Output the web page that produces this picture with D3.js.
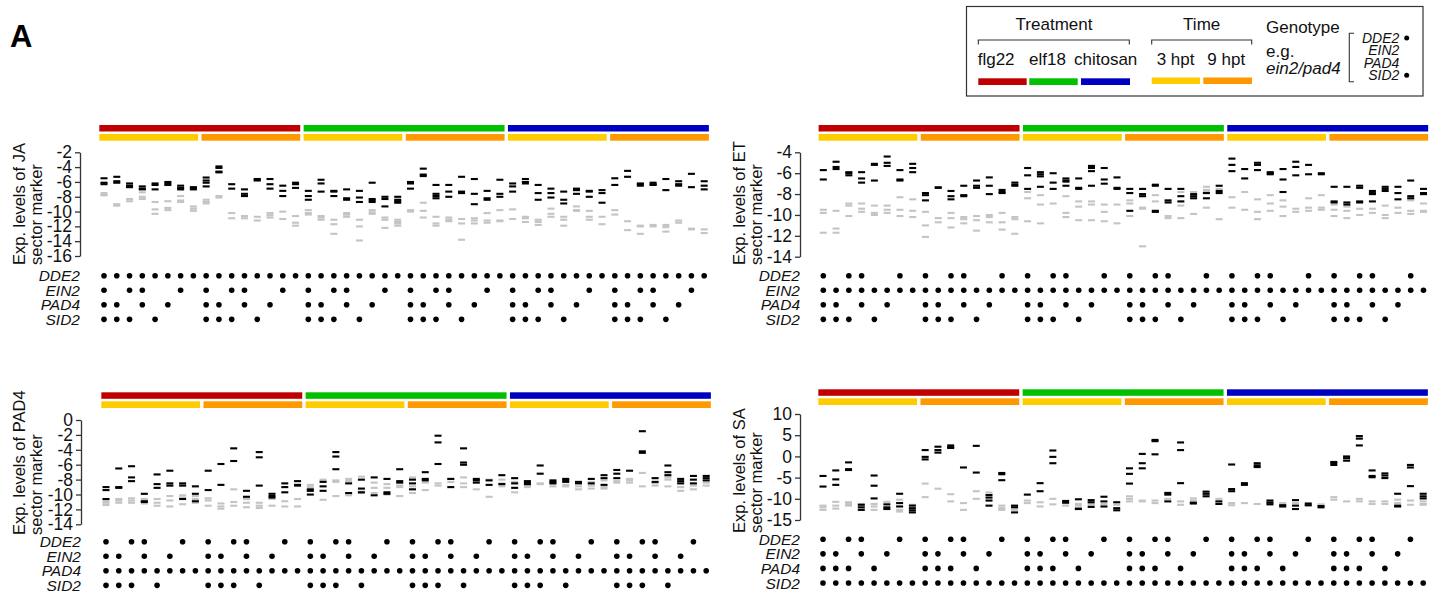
<!DOCTYPE html>
<html>
<head>
<meta charset="utf-8">
<script src="https://cdn.jsdelivr.net/npm/d3@7"></script>
<style>
  body { margin: 0; background: #fff; }
  svg { display: block; font-family: "Liberation Sans", Arial, sans-serif; }
</style>
</head>
<body>
<svg id="fig" width="1437" height="594"></svg>
<script>
// ---- data ----
const genes = ["DDE2", "EIN2", "PAD4", "SID2"];
const treatments = ["flg22", "elf18", "chitosan"];
const times = ["3 hpt", "9 hpt"];
// presence of the three non-marker genes in the 8 genotypes of each block
const genotypePattern = [[1,1,1],[0,1,1],[1,0,1],[1,1,0],[0,0,1],[0,1,0],[1,0,0],[0,0,0]];
const legendExample = [1, 0, 0, 1]; // ein2/pad4

const jaTicks = [-2, -4, -6, -8, -10, -12, -14, -16];
const jaBlack = [
  [-5.5,-6.1,-6.3],[-5.3,-5.9,-6.1],[-6.2,-6.5,-6.7],[-6.6,-6.9,-7.0],[-6.2,-6.4,-7.0],[-6.0,-6.2,-6.4],[-6.5,-6.8,-7.0],[-6.7,-6.8,-7.0],
  [-5.4,-5.8,-6.1,-6.6],[-3.9,-4.1,-4.6,-4.7],[-6.3,-6.9],[-7.0,-7.6,-7.9],[-5.6,-5.7,-5.8],[-5.6,-6.3,-6.9],[-6.5,-7.2,-7.9],[-6.1,-6.3,-6.8],
  [-7.2,-7.9,-8.4],[-5.7,-6.2,-7.3],[-7.2,-7.3,-7.9],[-7.0,-8.2,-8.4],[-7.2,-8.1,-8.7],[-6.1,-8.3,-8.5,-8.7],[-8.0,-8.3,-9.3],[-8.0,-8.4,-8.6,-8.8],
  [-6.0,-6.2,-6.9],[-4.2,-5.0,-5.2],[-6.4,-7.6,-7.9,-8.2],[-6.4,-7.3,-8.0],[-5.3,-7.3,-7.5],[-5.6,-7.6,-9.0],[-7.2,-8.2,-8.4],[-5.7,-7.6,-8.0],
  [-6.2,-6.6,-7.3],[-5.6,-6.0,-6.2],[-6.4,-7.5,-8.4],[-6.9,-7.5,-8.1],[-7.3,-8.4,-8.9],[-6.9,-7.1,-7.6],[-7.2,-7.3,-8.0],[-7.1,-7.5,-8.8],
  [-5.5,-6.4],[-4.5,-5.3],[-6.2,-6.3,-6.5],[-6.1,-6.3,-6.4],[-5.6,-7.1],[-5.9,-6.3,-6.5],[-4.9,-6.7],[-5.9,-6.5,-7.0]
];
const jaGray = [
  [-7.5,-7.7,-7.8],[-9.0,-9.2],[-8.3,-8.6],[-7.4,-8.0,-8.3],[-8.7,-9.7,-10.3],[-8.6,-9.5,-9.8],[-7.9,-8.5,-8.7],[-9.3,-9.6,-9.9],
  [-8.4,-8.7,-8.9],[-7.9,-8.1],[-10.2,-10.9],[-10.6,-10.9],[-10.7,-11.2],[-10.2,-10.5,-10.8],[-10.0,-11.0],[-10.6,-11.5,-11.9],
  [-9.8,-10.2,-10.4],[-10.6,-10.8,-11.1],[-11.1,-11.7,-13.0],[-10.2,-10.4,-10.7],[-11.1,-12.0,-13.9],[-9.8,-10.1,-10.3],[-10.8,-11.1,-12.2],[-11.1,-11.4,-11.6,-11.9],
  [-9.8,-10.0],[-8.8,-9.9,-10.8],[-10.7,-11.6,-11.9],[-10.8,-11.1,-11.3],[-11.0,-11.6,-13.8],[-10.9,-11.2,-11.6],[-10.2,-11.2,-11.5],[-9.8,-11.2,-11.3],
  [-9.7,-11.0],[-10.7,-10.9,-11.4],[-11.1,-11.4,-11.8],[-9.6,-10.3,-10.7],[-10.7,-11.1,-11.9],[-9.3,-9.8,-9.9],[-9.9,-10.7,-11.1],[-10.7,-11.7],
  [-9.8,-10.4],[-11.3,-12.5],[-11.9,-12.0,-13.0],[-11.8,-12.0],[-11.8,-12.1,-12.7],[-11.2,-11.5],[-12.3,-12.4],[-12.4,-12.9]
];

const etTicks = [-4, -6, -8, -10, -12, -14];
const etBlack = [
  [-5.7,-6.6],[-4.9,-5.4,-5.6],[-5.9,-6.0,-6.2],[-5.9,-6.5,-6.9],[-5.1,-5.2,-6.7],[-4.4,-5.0,-5.3],[-5.7,-6.6,-6.7],[-5.1,-5.5,-5.9],
  [-7.9,-8.1,-8.6],[-7.35,-7.4],[-7.7,-8.2,-8.5],[-7.2,-8.1,-8.2],[-6.7,-7.2,-7.4],[-6.4,-7.2,-8.0],[-7.6,-7.8,-7.9],[-6.9,-7.1,-7.2],
  [-5.5,-6.2,-7.5],[-5.9,-6.1,-6.3,-7.3],[-6.0,-6.9,-7.5],[-6.5,-6.7,-6.8,-7.2],[-6.5,-7.4,-7.5],[-5.3,-5.5,-5.8,-7.2],[-5.5,-6.6,-7.0],[-6.4,-7.4,-7.5],
  [-7.5,-7.9,-9.6],[-7.5,-8.0,-8.2],[-7.1,-7.2,-9.6,-9.7],[-7.5,-8.6,-8.8],[-7.5,-8.2,-8.7],[-8.0,-8.2,-8.4],[-7.9,-8.4],[-7.2,-7.7,-7.9],
  [-4.6,-5.2,-5.8],[-5.6,-6.5],[-5.0,-5.2,-5.7],[-5.9,-6.0,-6.1],[-5.6,-6.6,-7.8],[-4.9,-5.4,-6.2],[-5.2,-6.1],[-6.0,-6.1],
  [-7.3,-8.7,-8.8],[-7.3,-8.8,-9.0],[-7.2,-7.4,-8.7,-8.8],[-7.7,-7.9,-8.0,-8.7],[-7.3,-7.5,-7.7],[-7.3,-7.9,-8.5],[-6.7,-8.2,-8.4],[-7.5,-7.9,-8.0]
];
const etGray = [
  [-9.5,-9.8,-11.7],[-9.6,-11.3,-11.7],[-8.9,-9.1,-10.1],[-8.9,-9.4,-9.7],[-9.1,-9.8,-10.0],[-9.1,-9.5,-9.8],[-8.3,-9.5,-10.1],[-8.5,-9.6,-10.2],
  [-9.7,-11.0,-12.1],[-10.3,-10.7],[-9.8,-10.3,-11.2],[-10.2,-10.4,-10.8],[-10.1,-10.5,-11.5],[-10.0,-10.2,-10.7],[-9.8,-10.7,-11.4],[-10.2,-10.4,-11.8],
  [-7.8,-8.4,-10.6],[-8.1,-9.0,-10.8],[-8.9],[-8.2,-9.8,-10.2],[-8.7,-9.2,-10.5],[-8.7,-9.0,-10.5],[-9.0,-9.7,-10.6],[-9.0,-10.8],
  [-8.6,-8.9,-10.1],[-9.3,-9.4,-13.0],[-8.1,-8.7],[-10.1,-10.3],[-7.8,-9.1,-10.3],[-7.8,-9.9],[-7.3,-7.6,-7.8,-9.3],[-7.5,-10.4],
  [-8.3,-9.3],[-7.8,-9.5],[-8.5,-9.7,-10.4],[-8.1,-8.9,-9.6],[-8.6,-9.2,-10.1],[-9.4,-9.7],[-8.4,-9.3,-9.6],[-8.1,-9.3,-9.5],
  [-9.0,-9.5,-10.1],[-9.2,-9.6,-10.3],[-9.4,-10.0],[-9.4,-9.8],[-9.1,-10.0,-10.3],[-9.3,-9.8],[-8.6,-9.6,-9.9],[-8.9,-9.6,-9.7]
];

const padTicks = [0, -2, -4, -6, -8, -10, -12, -14];
const padBlack = [
  [-9.0,-9.4,-10.6],[-6.5,-9.0,-9.1],[-6.2,-7.7,-8.2],[-9.9,-10.9,-11.0],[-7.3,-8.6,-9.1],[-6.8,-8.5,-8.8],[-8.5,-8.8,-10.6],[-8.9,-9.9,-10.9],
  [-6.8,-9.4],[-5.9,-8.7],[-3.8,-5.5],[-9.5,-10.3],[-4.3,-5.0,-8.8],[-9.9,-10.2,-10.4],[-8.5,-9.0,-9.7],[-8.2,-8.7,-8.8],
  [-9.3,-9.5,-10.0],[-8.3,-8.9,-9.5],[-4.3,-4.9,-6.6],[-8.5,-9.8],[-8.0,-9.2,-9.7],[-7.7,-10.1],[-7.9,-9.7,-9.9],[-6.6,-8.2,-8.4],
  [-8.0,-8.5,-9.3],[-7.0,-7.9,-8.1],[-2.1,-3.0,-5.9],[-7.9,-9.0],[-3.8,-5.7,-6.0],[-7.9,-8.1,-8.4],[-8.1,-8.7],[-7.4,-8.6],
  [-7.8,-8.5,-9.1],[-8.2,-8.4,-8.6],[-6.1,-7.2],[-8.1,-8.3,-8.5],[-7.9,-8.1,-8.3],[-8.3,-8.5],[-7.9,-8.5],[-7.4,-7.8,-8.7],
  [-6.7,-7.2,-7.8],[-6.8],[-1.5,-4.2,-4.4],[-7.8,-8.3],[-6.1,-7.0,-7.4],[-7.9,-8.2,-8.5],[-7.5,-8.0,-8.5],[-7.5,-7.8,-8.1]
];
const padGray = [
  [-10.9,-11.1,-11.4],[-10.6,-10.8,-11.1],[-10.5,-10.8,-11.1],[-10.6,-10.7,-11.2],[-10.6,-11.1,-11.5],[-10.2,-10.8,-11.6],[-10.1,-10.4,-11.3],[-10.2,-10.6,-11.1],
  [-10.5,-10.8,-11.5],[-11.2,-11.6,-11.9],[-9.3,-11.0,-11.5],[-10.6,-11.1,-11.7],[-11.1,-11.5,-11.8],[-10.6,-11.5],[-10.9,-11.6],[-10.6,-11.6],
  [-8.7,-9.0],[-8.0,-8.2,-10.7],[-8.1,-8.3,-10.2],[-7.9,-8.2,-10.1],[-7.6,-9.6,-9.8],[-8.4,-9.1,-9.8],[-8.6,-9.1,-10.0],[-8.8,-9.0,-10.2],
  [-7.7,-8.9,-9.8],[-8.4,-9.4],[-8.5,-8.8],[-7.9,-8.3],[-7.7,-8.5,-9.0],[-9.3],[-8.0,-10.3],[-8.0,-8.5,-8.9],
  [-8.3,-9.7],[-8.8,-9.0],[-8.5,-8.6],[-8.5,-8.9],[-8.7,-8.9],[-8.9,-9.3],[-8.3,-8.8,-9.2],[-8.1,-9.0,-9.2],
  [-8.2,-8.4],[-7.9,-8.1,-8.4],[-7.1,-8.9],[-8.5,-8.8],[-7.7,-8.0,-8.9],[-9.0,-9.5],[-8.8,-9.3],[-8.4,-8.8]
];

const saTicks = [10, 5, 0, -5, -10, -15];
const saBlack = [
  [-4.6,-7.1],[-3.3,-5.4,-6.7],[-1.4,-3.0,-3.2],[-11.4,-12.0,-12.6],[-4.5,-6.9,-9.9],[-11.3,-12.0,-12.4],[-8.8,-11.0,-11.8],[-11.6,-12.2,-12.7,-13.2],
  [1.5,-0.1,-0.7],[2.3,1.5,0.9],[2.6,2.2,2.0],[-2.6],[2.5,-3.8],[-9.1,-9.7,-10.4,-11.6],[-3.9,-4.2,-5.6],[-11.6,-12.0,-13.2],
  [-9.0],[-6.3,-8.2],[1.4,-0.1,-1.6],[-10.5,-10.9],[-10.1,-12.3,-12.4],[-10.3,-10.8,-11.9],[-9.5,-10.6,-11.8],[-10.8,-12.2,-12.7],
  [-2.8,-4.1,-6.4],[0.6,-1.6,-2.8],[3.9,3.6,0.5],[-8.6,-9.0,-10.6],[3.3,1.5,-6.3],[-10.9,-11.1],[-8.3,-8.8,-9.4],[-10.6,-11.2],
  [-1.9,-7.7,-8.2],[-6.3,-6.7],[-1.6,-2.1,-2.5],[-10.4,-10.9,-11.3],[-11.5,-11.8],[-10.3,-11.6,-12.4],[-11.1,-11.5],[-11.7,-12.0],
  [-1.3,-1.6,-2.0],[0.0,-0.4,-1.0],[4.8,4.2,2.6],[-3.3,-4.6,-4.9],[-4.0,-4.5,-5.1],[-8.8,-11.6,-11.8],[-2.0,-2.6,-7.0],[-8.8,-9.4,-9.9]
];
const saGray = [
  [-11.6,-12.0,-12.6],[-10.7,-11.6,-12.3],[-10.8,-11.2,-11.6],[-11.2],[-11.2,-11.8,-12.6],[-10.7],[-10.2,-12.6,-13.0],[-11.4],
  [-6.4,-9.6],[-7.6],[-8.9,-10.6],[-11.0,-12.6],[-8.2,-10.0],[-8.5],[-11.6,-12.2,-12.6],[-12.6],
  [-10.4,-11.0],[-10.8,-11.8],[-10.0,-11.3],[-11.0,-11.6],[-11.2,-11.6],[-11.2,-11.5],[-11.2],[-11.4],
  [-9.4,-10.0,-10.6],[-10.4,-10.6],[-10.4,-11.0],[-10.0],[-10.6,-11.4],[-9.9,-10.4],[-9.0],[-10.0],
  [-11.0,-11.5],[-11.0],[-11.2],[-10.8],[-11.0,-11.5],[-11.0],[-11.6],[-11.3],
  [-9.6,-10.2],[-10.6],[-10.0,-10.6],[-10.6,-11.2],[-10.6,-11.2],[-10.2,-11.0],[-10.4,-11.4],[-10.6,-11.2,-11.4]
];

// ---- style / layout ----
const treatColors = ["#c00000", "#00c000", "#0000c0"];
const timeColors = ["#ffcc00", "#ff9900"];
const FONT = "'Liberation Sans', Arial, sans-serif";
const colStep = 12.77;
const nCols = 48;

const panels = [
  { name: "JA",   marker: "DDE2", ticks: jaTicks,  black: jaBlack,  gray: jaGray,
    axisX: 80,  yTop: 152.3, yBot: 256,   x0: 104,   barY: 125,   geneY: 275.7, titleX: 25,  titleY: 265 },
  { name: "ET",   marker: "EIN2", ticks: etTicks,  black: etBlack,  gray: etGray,
    axisX: 800, yTop: 152.3, yBot: 256.7, x0: 823.3, barY: 125,   geneY: 275.7, titleX: 745, titleY: 265 },
  { name: "PAD4", marker: "PAD4", ticks: padTicks, black: padBlack, gray: padGray,
    axisX: 81,  yTop: 420,   yBot: 524.3, x0: 106,   barY: 392.3, geneY: 541.7, titleX: 25,  titleY: 535 },
  { name: "SA",   marker: "SID2", ticks: saTicks,  black: saBlack,  gray: saGray,
    axisX: 800, yTop: 414,   yBot: 520,   x0: 823,   barY: 389.3, geneY: 539.3, titleX: 745, titleY: 533 }
];

const svg = d3.select("#fig");

svg.append("text")
  .attr("x", 10).attr("y", 47)
  .attr("font-family", FONT).attr("font-size", 31).attr("font-weight", "bold")
  .text("A");

panels.forEach(p => {
  const g = svg.append("g").attr("font-family", FONT);

  const x = d3.scalePoint()
    .domain(d3.range(nCols))
    .range([p.x0, p.x0 + (nCols - 1) * colStep]);
  const y = d3.scaleLinear()
    .domain([d3.min(p.ticks), d3.max(p.ticks)])
    .range([p.yBot, p.yTop]);

  // treatment and time bars
  treatments.forEach((t, i) => {
    const a = i * 16, b = a + 15;
    g.append("rect")
      .attr("x", x(a) - colStep / 2 + 1.7)
      .attr("width", x(b) - x(a) + colStep - 3.4)
      .attr("y", p.barY).attr("height", 6.5)
      .attr("fill", treatColors[i]);
    times.forEach((tm, j) => {
      const c = a + j * 8, d = c + 7;
      g.append("rect")
        .attr("x", x(c) - colStep / 2 + 1.7)
        .attr("width", x(d) - x(c) + colStep - 3.4)
        .attr("y", p.barY + 9).attr("height", 6.7)
        .attr("fill", timeColors[j]);
    });
  });

  // y axis
  const axis = d3.axisLeft(y)
    .tickValues(p.ticks)
    .tickFormat(d => String(d))
    .tickSize(5).tickSizeOuter(0).tickPadding(3);
  const ag = g.append("g")
    .attr("transform", `translate(${p.axisX},0)`)
    .call(axis);
  ag.select(".domain").attr("stroke", "#333").attr("stroke-width", 1.3);
  ag.selectAll(".tick line").attr("stroke", "#333").attr("stroke-width", 1.3);
  ag.selectAll(".tick text")
    .attr("fill", "#111")
    .attr("font-family", FONT)
    .attr("font-size", 17.5);

  // axis title (two lines)
  const tt = g.append("text")
    .attr("transform", `translate(${p.titleX},${p.titleY}) rotate(-90)`)
    .attr("font-size", 16.5).attr("fill", "#111");
  tt.append("tspan").attr("x", 0).attr("y", 0).text(`Exp. levels of ${p.name}`);
  tt.append("tspan").attr("x", 0).attr("y", 16.7).text("sector marker");

  // expression dashes: gray first, black on top
  const flat = arr => arr.flatMap((vals, i) => vals.map(v => ({ col: i, v })));
  g.append("g").selectAll("rect")
    .data(flat(p.gray))
    .join("rect")
    .attr("x", d => x(d.col) - 3.5).attr("y", d => y(d.v) - 1)
    .attr("width", 7).attr("height", 2.1)
    .attr("fill", "#c4c4c4");
  g.append("g").selectAll("rect")
    .data(flat(p.black))
    .join("rect")
    .attr("x", d => x(d.col) - 3.5).attr("y", d => y(d.v) - 1)
    .attr("width", 7).attr("height", 2.1)
    .attr("fill", "#000");

  // genotype matrix
  const others = genes.filter(gn => gn !== p.marker);
  genes.forEach((gn, r) => {
    const gy = p.geneY + r * 14.55;
    g.append("text")
      .attr("x", p.axisX).attr("y", gy).attr("dy", "0.36em")
      .attr("text-anchor", "end")
      .attr("font-size", 15.5).attr("font-style", "italic").attr("fill", "#111")
      .text(gn);
    const present = d3.range(nCols).filter(c =>
      gn === p.marker || genotypePattern[c % 8][others.indexOf(gn)] === 1);
    g.append("g").selectAll("circle")
      .data(present)
      .join("circle")
      .attr("cx", c => x(c)).attr("cy", gy).attr("r", 2.8)
      .attr("fill", "#000");
  });
});

// ---- legend ----
const lg = svg.append("g").attr("font-family", FONT).attr("fill", "#111");
lg.append("rect")
  .attr("x", 966.5).attr("y", 6.5).attr("width", 456.5).attr("height", 89.5)
  .attr("fill", "none").attr("stroke", "#333").attr("stroke-width", 1.2);

lg.append("text").attr("x", 1054).attr("y", 30).attr("text-anchor", "middle")
  .attr("font-size", 17).text("Treatment");
lg.append("path").attr("d", "M978.3,44.5V40H1129.3V44.5")
  .attr("fill", "none").attr("stroke", "#333").attr("stroke-width", 1.1);
const treatTextX = [977.7, 1029, 1074];
const treatBarX = [[978.3, 1026.7], [1029.3, 1077.7], [1081, 1130]];
treatments.forEach((t, i) => {
  lg.append("text").attr("x", treatTextX[i]).attr("y", 65).attr("font-size", 17).text(t);
  lg.append("rect").attr("x", treatBarX[i][0]).attr("width", treatBarX[i][1] - treatBarX[i][0])
    .attr("y", 78.3).attr("height", 6.7).attr("fill", treatColors[i]);
});

lg.append("text").attr("x", 1201.7).attr("y", 30).attr("text-anchor", "middle")
  .attr("font-size", 17).text("Time");
lg.append("path").attr("d", "M1151.7,44.5V40H1251.7V44.5")
  .attr("fill", "none").attr("stroke", "#333").attr("stroke-width", 1.1);
const timeTextX = [1156.7, 1207.3];
const timeBarX = [[1151.7, 1200], [1203.3, 1252]];
times.forEach((t, i) => {
  lg.append("text").attr("x", timeTextX[i]).attr("y", 65).attr("font-size", 17).text(t);
  lg.append("rect").attr("x", timeBarX[i][0]).attr("width", timeBarX[i][1] - timeBarX[i][0])
    .attr("y", 77.5).attr("height", 6.5).attr("fill", timeColors[i]);
});

lg.append("text").attr("x", 1266).attr("y", 33).attr("font-size", 17).text("Genotype");
lg.append("text").attr("x", 1266).attr("y", 57).attr("font-size", 17).text("e.g.");
lg.append("text").attr("x", 1266).attr("y", 74).attr("font-size", 17)
  .attr("font-style", "italic").text("ein2/pad4");
lg.append("path").attr("d", "M1354,33.3H1349.3V81.7H1354")
  .attr("fill", "none").attr("stroke", "#333").attr("stroke-width", 1.1);
genes.forEach((gn, i) => {
  const by = 42.7 + i * 12.45;
  lg.append("text").attr("x", 1399.3).attr("y", by).attr("text-anchor", "end")
    .attr("font-size", 14).attr("font-style", "italic").text(gn);
  if (legendExample[i]) {
    lg.append("circle").attr("cx", 1406.7).attr("cy", by - 4.8).attr("r", 2.5).attr("fill", "#000");
  }
});
</script>
</body>
</html>
